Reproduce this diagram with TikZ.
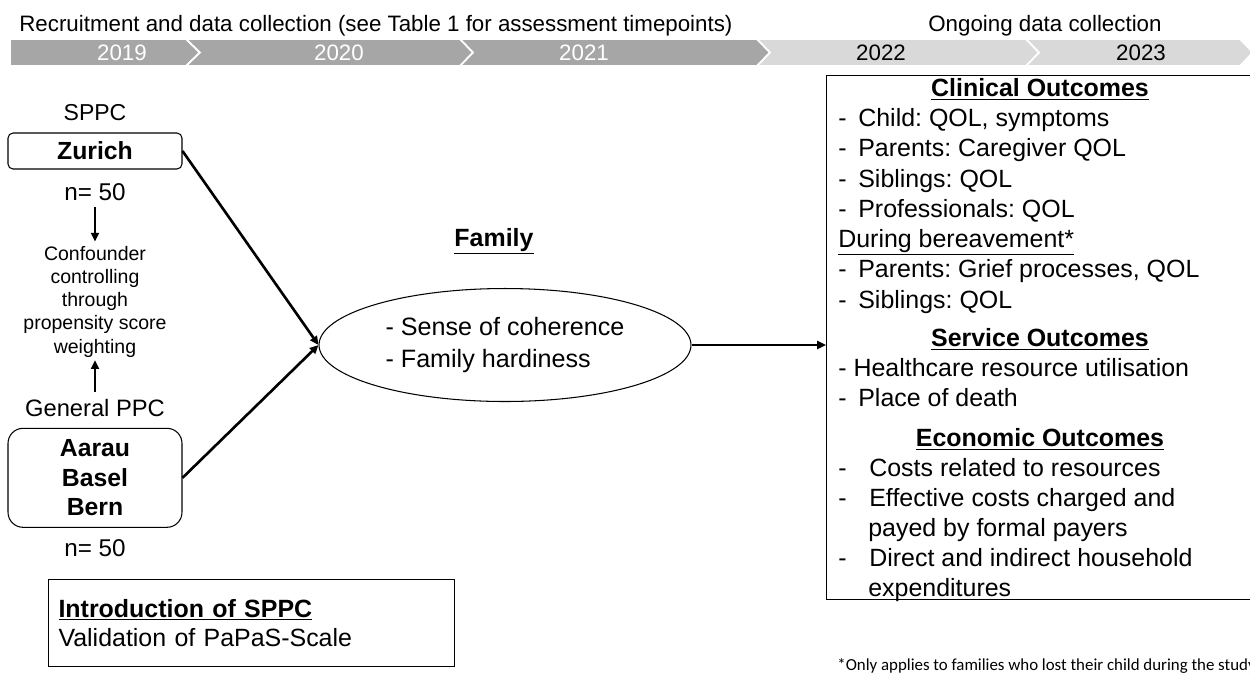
\documentclass[tikz,border=0pt]{standalone}
\usepackage{fontspec}
\setmainfont{Liberation Sans}
\newfontfamily\calibri{Carlito}
\usetikzlibrary{shapes.geometric,arrows.meta}
\frenchspacing

\definecolor{bardark}{HTML}{A6A6A6}
\definecolor{barlight}{HTML}{D9D9D9}

\newcommand{\outitem}[1]{\makebox[0.4cm][l]{-}#1}
\newcommand{\costitem}[1]{\makebox[0.62cm][l]{-}#1}
\newcommand{\headline}[1]{\underline{\textbf{#1}}}

\begin{document}
\begin{tikzpicture}[x=0.02cm, y=-0.02cm,
    txt/.style={inner sep=0pt, font=\fontsize{14.2}{17.2}\selectfont},
    small/.style={inner sep=0pt, font=\fontsize{12.7}{15}\selectfont},
    sitebox/.style={draw, line width=0.6pt, minimum width=3.48cm, align=center,
      font=\bfseries\fontsize{14.1}{16.9}\selectfont},
    seg/.style={draw=white, line width=1pt},
    arr/.style={-{Triangle[length=5pt,width=4.5pt]}, line width=1.5pt}]

  \useasboundingbox (0,0) rectangle (1250,674);

  % Timeline
  \filldraw[seg, fill=bardark] (10,39) -- (186,39) -- (200,52.5) -- (186,66) -- (10,66) -- cycle;
  \filldraw[seg, fill=bardark] (186,39) -- (460,39) -- (473,52.5) -- (460,66) -- (186,66) -- (200,52.5) -- cycle;
  \filldraw[seg, fill=bardark] (460,39) -- (757,39) -- (770,52.5) -- (757,66) -- (460,66) -- (473,52.5) -- cycle;
  \filldraw[seg, fill=barlight] (757,39) -- (1026,39) -- (1039,52.5) -- (1026,66) -- (757,66) -- (770,52.5) -- cycle;
  \filldraw[seg, fill=barlight] (1026,39) -- (1240,39) -- (1253,52.5) -- (1240,66) -- (1026,66) -- (1039,52.5) -- cycle;

  \node[small, anchor=base, text=white] (y2019) at (122,60) {2019};
  \node[small, anchor=base, text=white] (y2020) at (339,60) {2020};
  \node[small, anchor=base, text=white] (y2021) at (584,60) {2021};
  \node[small, anchor=base] (y2022) at (881,60) {2022};
  \node[small, anchor=base] (y2023) at (1141,60) {2023};

  \node[small, anchor=base west] (recruit) at (19,31.7) {Recruitment and data collection (see Table 1 for assessment timepoints)};
  \node[small, anchor=base west] (ongoing) at (928,31.7) {Ongoing data collection};

  % Sites
  \node[txt, anchor=base, font=\fontsize{13.1}{15}\selectfont] (sppc) at (95,120.7) {SPPC};
  \node[sitebox, rounded corners=0.1cm, minimum height=0.72cm] (zurich) at (95,151) {Zurich};
  \node[txt, anchor=base, font=\fontsize{13.8}{16}\selectfont] (nzurich) at (95,200.7) {n= 50};

  \node[inner sep=0pt, anchor=north, align=center, font=\fontsize{11.1}{13.25}\selectfont] (confound) at (95,245.6)
    {Confounder\\controlling\\through\\propensity score\\weighting};

  \node[txt, anchor=base, font=\fontsize{13.5}{16}\selectfont] (general) at (95,416) {General PPC};
  \node[sitebox, rounded corners=0.3cm, minimum height=1.98cm] (aarau) at (95,477.8) {Aarau\\Basel\\Bern};
  \node[txt, anchor=base, font=\fontsize{13.8}{16}\selectfont] (nother) at (95,556.7) {n= 50};

  \node[draw, line width=0.6pt, anchor=north west, minimum width=8.12cm, minimum height=1.74cm,
    inner xsep=0.2cm, text width=7.72cm, align=left, font=\fontsize{14.2}{17}\selectfont] (intro) at (48,579)
    {\headline{Introduction of SPPC}\\Validation of PaPaS-Scale};

  % Family
  \node[txt, anchor=base] (famhead) at (494,246) {\headline{Family}};
  \node[ellipse, draw, line width=0.6pt, minimum width=7.44cm, minimum height=2.26cm, align=left,
    font=\fontsize{14.3}{18.2}\selectfont] (family) at (505,345)
    {- Sense of coherence\\- Family hardiness};

  % Outcomes
  \node[draw, line width=0.6pt, anchor=north west, inner sep=0pt, minimum width=8.7cm, minimum height=10.48cm] (outcomes) at (826,75) {};

  \node[txt, anchor=base] (clinical) at (1040,96.7) {\headline{Clinical Outcomes}};
  \node[txt, anchor=base west] (c1) at (838,126.7) {\outitem{Child: QOL, symptoms}};
  \node[txt, anchor=base west] (c2) at (838,156.7) {\outitem{Parents: Caregiver QOL}};
  \node[txt, anchor=base west] (c3) at (838,187.5) {\outitem{Siblings: QOL}};
  \node[txt, anchor=base west] (c4) at (838,217.8) {\outitem{Professionals: QOL}};
  \node[txt, anchor=base west] (bereave) at (838,247) {\underline{During bereavement*}};
  \node[txt, anchor=base west] (c5) at (838,277.8) {\outitem{Parents: Grief processes, QOL}};
  \node[txt, anchor=base west] (c6) at (838,308) {\outitem{Siblings: QOL}};

  \node[txt, anchor=base] (service) at (1040,346.7) {\headline{Service Outcomes}};
  \node[txt, anchor=base west] (s1) at (838,376.7) {- Healthcare resource utilisation};
  \node[txt, anchor=base west] (s2) at (838,406.7) {\outitem{Place of death}};

  \node[txt, anchor=base] (economic) at (1040,446.7) {\headline{Economic Outcomes}};
  \node[txt, anchor=base west] (e1) at (838,476.7) {\costitem{Costs related to resources}};
  \node[txt, anchor=base west] (e2) at (838,506.7) {\costitem{Effective costs charged and}};
  \node[txt, anchor=base west] (e2b) at (868,536.7) {payed by formal payers};
  \node[txt, anchor=base west] (e3) at (838,566.7) {\costitem{Direct and indirect household}};
  \node[txt, anchor=base west] (e3b) at (868,596.7) {expenditures};

  \node[inner sep=0pt, anchor=base west, font=\calibri\fontsize{9.6}{11}\selectfont] (note) at (837,670)
    {*Only applies to families who lost their child during the study};

  % Directed edges
  \draw[arr, shorten <=0.12cm, shorten >=0.08cm] (nzurich.south) -- (confound.north);
  \draw[arr, shorten <=0.13cm, shorten >=0.05cm] (general.north) -- (confound.south);
  \draw[arr] (zurich.east) -- (family.west);
  \draw[arr] (aarau.east) -- (family.west);
  \draw[arr] (family.east) -- (family.east -| outcomes.west);

\end{tikzpicture}
\end{document}
